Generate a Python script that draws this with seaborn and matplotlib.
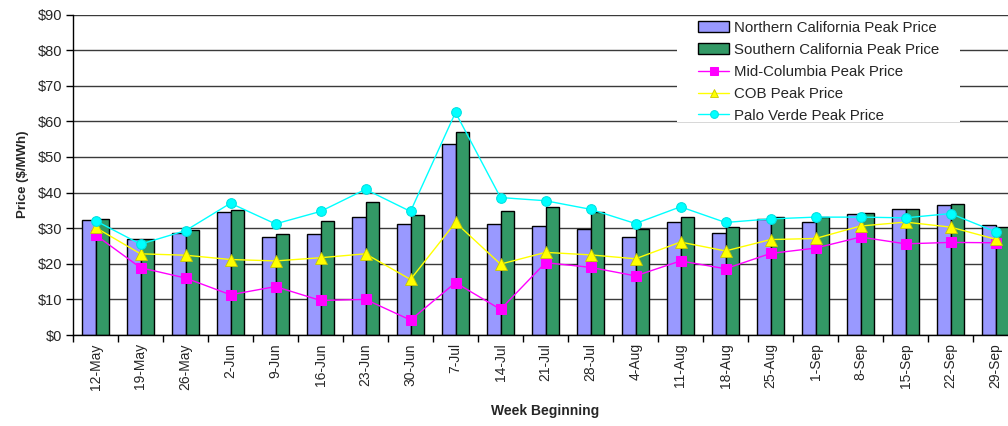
import matplotlib
matplotlib.use("Agg")
import matplotlib.pyplot as plt
from matplotlib.patches import Rectangle
from matplotlib.ticker import FuncFormatter, FixedLocator
import numpy as np
import pandas as pd
import seaborn as sns

weeks = ["12-May", "19-May", "26-May", "2-Jun", "9-Jun", "16-Jun", "23-Jun",
         "30-Jun", "7-Jul", "14-Jul", "21-Jul", "28-Jul", "4-Aug", "11-Aug",
         "18-Aug", "25-Aug", "1-Sep", "8-Sep", "15-Sep", "22-Sep", "29-Sep"]

north_ca = [32.3, 26.9, 28.6, 34.6, 27.6, 28.4, 33.1, 31.2, 53.7, 31.3, 30.7,
            29.7, 27.6, 31.8, 28.6, 32.5, 31.7, 33.9, 35.4, 36.6, 30.9]
south_ca = [32.6, 26.9, 29.4, 35.2, 28.3, 32.0, 37.4, 33.7, 57.1, 34.9, 35.9,
            34.5, 29.9, 33.2, 30.4, 33.1, 33.2, 34.2, 35.3, 36.9, 30.3]
mid_columbia = [28.1, 18.9, 16.0, 11.3, 13.6, 9.7, 10.0, 4.2, 14.7, 7.2, 20.3,
                19.0, 16.6, 20.8, 18.6, 22.9, 24.4, 27.5, 25.6, 26.0, 25.9]
cob = [30.2, 22.8, 22.4, 21.2, 20.8, 21.7, 22.8, 15.6, 31.6, 19.9, 23.2,
       22.5, 21.4, 26.1, 23.6, 26.8, 27.1, 30.6, 31.7, 30.3, 26.9]
palo_verde = [32.1, 25.5, 29.3, 37.0, 31.2, 34.7, 40.9, 34.7, 62.5, 38.6, 37.7,
              35.3, 31.3, 36.0, 31.6, 32.6, 33.1, 33.1, 32.9, 34.1, 29.0]

bar_names = ["Northern California Peak Price", "Southern California Peak Price"]

bars = pd.DataFrame({
    "week": weeks * 2,
    "price": north_ca + south_ca,
    "series": [bar_names[0]] * len(weeks) + [bar_names[1]] * len(weeks),
})

sns.set_style("white")
plt.rcParams["font.family"] = ["Liberation Sans", "DejaVu Sans"]

fig = plt.figure(figsize=(10.08, 4.26), dpi=100)
ax = fig.add_axes([73 / 1008, 91 / 426, 945 / 1008, 320.5 / 426])

ax.set_axisbelow(True)
ax.yaxis.grid(True, color="#3a3a3a", linewidth=1.0)
ax.xaxis.grid(False)

sns.barplot(data=bars, x="week", y="price", hue="series", order=weeks,
            hue_order=bar_names, palette=["#9999FF", "#339966"],
            width=0.58, gap=0, edgecolor="black", linewidth=1.0,
            saturation=1, errorbar=None, ax=ax)

idx = np.arange(len(weeks))
sns.lineplot(x=idx, y=mid_columbia, color="#FF00FF", marker="s", markersize=7,
             markeredgecolor="#FF00FF", linewidth=1.0,
             label="Mid-Columbia Peak Price", ax=ax)
sns.lineplot(x=idx, y=cob, color="#FFFF00", marker="^", markersize=8,
             markeredgecolor="#C8C800", markeredgewidth=0.6, linewidth=1.0,
             label="COB Peak Price", ax=ax)
sns.lineplot(x=idx, y=palo_verde, color="#00FFFF", marker="o", markersize=7,
             markeredgecolor="#00E0E0", linewidth=1.0,
             label="Palo Verde Peak Price", ax=ax)

ax.set_xlim(-0.5, len(weeks) - 0.5)
ax.set_ylim(0, 90)
ax.set_yticks(np.arange(0, 91, 10))
ax.yaxis.set_major_formatter(FuncFormatter(lambda v, p: f"${v:.0f}"))

ax.set_xticks(idx)
ax.set_xticklabels(weeks, rotation=90)
ax.xaxis.set_minor_locator(FixedLocator(np.arange(-0.5, len(weeks), 1.0)))
ax.tick_params(axis="x", which="major", length=0, pad=6, labelsize=10)
ax.tick_params(axis="x", which="minor", length=5, width=1, color="black",
               direction="out", bottom=True)
ax.tick_params(axis="y", which="major", length=5, width=1, color="black",
               direction="out", left=True, labelsize=10.5, pad=3)

for side in ["top", "right"]:
    ax.spines[side].set_visible(False)
for side in ["left", "bottom"]:
    ax.spines[side].set_color("black")
    ax.spines[side].set_linewidth(1.0)

ax.set_xlabel("Week Beginning", fontsize=10, fontweight="bold", labelpad=10)
ax.set_ylabel("Price ($/MWh)", fontsize=9.5, fontweight="bold", labelpad=6)

# white panel behind the legend, covering the gridlines but not the top one
ax.add_patch(Rectangle((0.639, 0.665), 0.2995, 0.328, transform=ax.transAxes,
                       facecolor="white", edgecolor="none", zorder=0.8))

handles, labels = ax.get_legend_handles_labels()
order = bar_names + ["Mid-Columbia Peak Price", "COB Peak Price",
                     "Palo Verde Peak Price"]
lookup = dict(zip(labels, handles))
leg = ax.legend([lookup[k] for k in order], order,
                loc="upper left", bbox_to_anchor=(0.6566, 0.994),
                borderaxespad=0, frameon=False, fontsize=10.8,
                handlelength=2.1, handleheight=0.7, handletextpad=0.27,
                labelspacing=0.53, borderpad=0.3, markerscale=0.8)

fig.savefig("out.png", dpi=100)
